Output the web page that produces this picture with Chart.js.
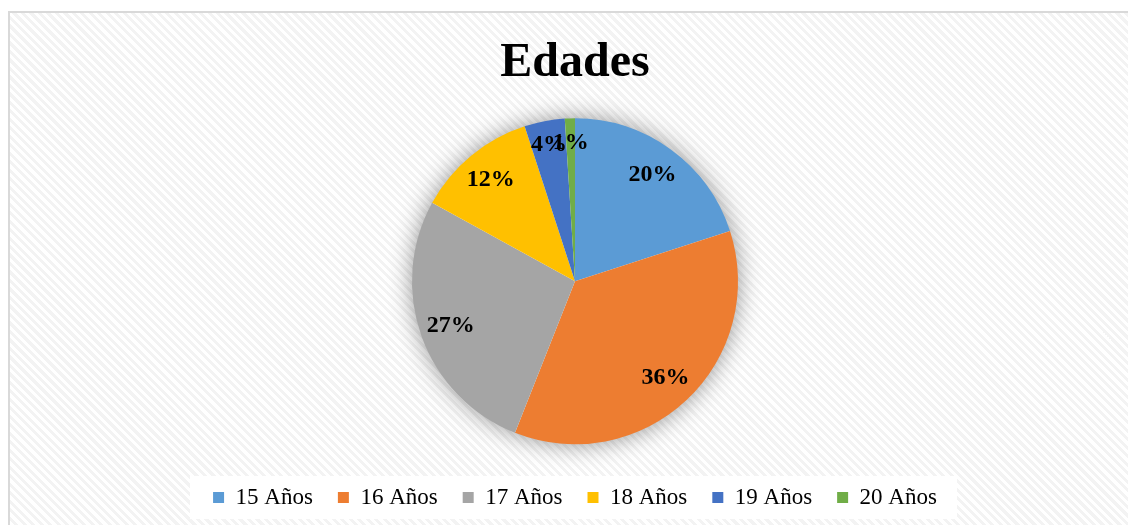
<!DOCTYPE html>
<html>
<head>
<meta charset="utf-8">
<script src="https://cdn.jsdelivr.net/npm/chart.js@4/dist/chart.umd.min.js"></script>
<style>
  html, body { margin: 0; padding: 0; overflow: hidden; background: #fff; }
  #wrap {
    position: absolute; left: 8px; top: 11px; width: 1130px; height: 520px;
    border-left: 2px solid #d9d9d9; border-top: 2px solid #d9d9d9;
    background: repeating-linear-gradient(45deg, #ffffff 0px, #ffffff 3px, #f3f3f3 3px, #f3f3f3 6px);
  }
  #box { position: absolute; left: 0; top: 0; width: 1120px; height: 512px; }
</style>
</head>
<body>
<div id="wrap"><div id="box"><canvas id="pieChart"></canvas></div></div>
<script>
// datos
const categorias = ["15 Años", "16 Años", "17 Años", "18 Años", "19 Años", "20 Años"];
const porcentajes = [20, 36, 27, 12, 4, 1];
const colores = ["#5B9BD5", "#ED7D31", "#A5A5A5", "#FFC000", "#4472C4", "#70AD47"];

// sombra suave detrás del pastel
const sombraPlugin = {
  id: "sombra",
  beforeDatasetsDraw(chart) {
    const arc = chart.getDatasetMeta(0).data[0];
    if (!arc) return;
    const ctx = chart.ctx;
    ctx.save();
    ctx.shadowColor = "rgba(0,0,0,0.45)";
    ctx.shadowBlur = 24;
    ctx.fillStyle = "#ffffff";
    ctx.beginPath();
    ctx.arc(arc.x, arc.y, arc.outerRadius - 1, 0, Math.PI * 2);
    ctx.fill();
    ctx.restore();
  },
};

// etiquetas de porcentaje dentro de cada porción
const etiquetasPlugin = {
  id: "etiquetas",
  afterDatasetsDraw(chart) {
    const ctx = chart.ctx;
    const meta = chart.getDatasetMeta(0);
    ctx.save();
    ctx.font = "bold 24px 'Liberation Serif', 'Times New Roman', serif";
    ctx.fillStyle = "#000";
    ctx.textAlign = "center";
    ctx.textBaseline = "middle";
    meta.data.forEach((arc, i) => {
      const p = arc.getProps(["x", "y", "startAngle", "endAngle", "outerRadius"], true);
      const mid = (p.startAngle + p.endAngle) / 2;
      // las porciones pequeñas llevan la etiqueta un poco más afuera
      const r = p.outerRadius * (porcentajes[i] < 5 ? 0.85 : 0.81);
      ctx.fillText(porcentajes[i] + "%", p.x + Math.cos(mid) * r, p.y + Math.sin(mid) * r);
    });
    ctx.restore();
  },
};

// fondo blanco de la leyenda
const fondoLeyenda = {
  id: "fondoLeyenda",
  beforeDraw(chart) {
    const boxes = chart.legend && chart.legend.legendHitBoxes;
    if (!boxes || !boxes.length) return;
    const left = Math.min(...boxes.map((b) => b.left));
    const right = Math.max(...boxes.map((b) => b.left + b.width));
    const top = Math.min(...boxes.map((b) => b.top));
    const bottom = Math.max(...boxes.map((b) => b.top + b.height));
    const ctx = chart.ctx;
    ctx.save();
    ctx.fillStyle = "#ffffff";
    ctx.fillRect(left - 23, top - 10, right - left + 43, bottom - top + 20);
    ctx.restore();
  },
};

new Chart(document.getElementById("pieChart"), {
  type: "pie",
  data: {
    labels: categorias,
    datasets: [
      {
        data: porcentajes,
        backgroundColor: colores,
        borderWidth: 0,
        radius: 163,
      },
    ],
  },
  options: {
    responsive: true,
    maintainAspectRatio: false,
    animation: false,
    events: [],
    layout: { padding: { left: 10, top: 0, right: 0, bottom: 6 } },
    plugins: {
      title: {
        display: true,
        text: "Edades",
        color: "#000",
        font: { family: "'Liberation Serif', 'Times New Roman', serif", size: 48, weight: "bold" },
        padding: { top: 22, bottom: 9 },
      },
      legend: {
        position: "bottom",
        labels: {
          color: "#000",
          boxWidth: 11,
          boxHeight: 11,
          padding: 25,
          font: { family: "'Liberation Serif', 'Times New Roman', serif", size: 23 },
        },
      },
      tooltip: { enabled: false },
    },
  },
  plugins: [sombraPlugin, etiquetasPlugin, fondoLeyenda],
});
</script>
</body>
</html>
